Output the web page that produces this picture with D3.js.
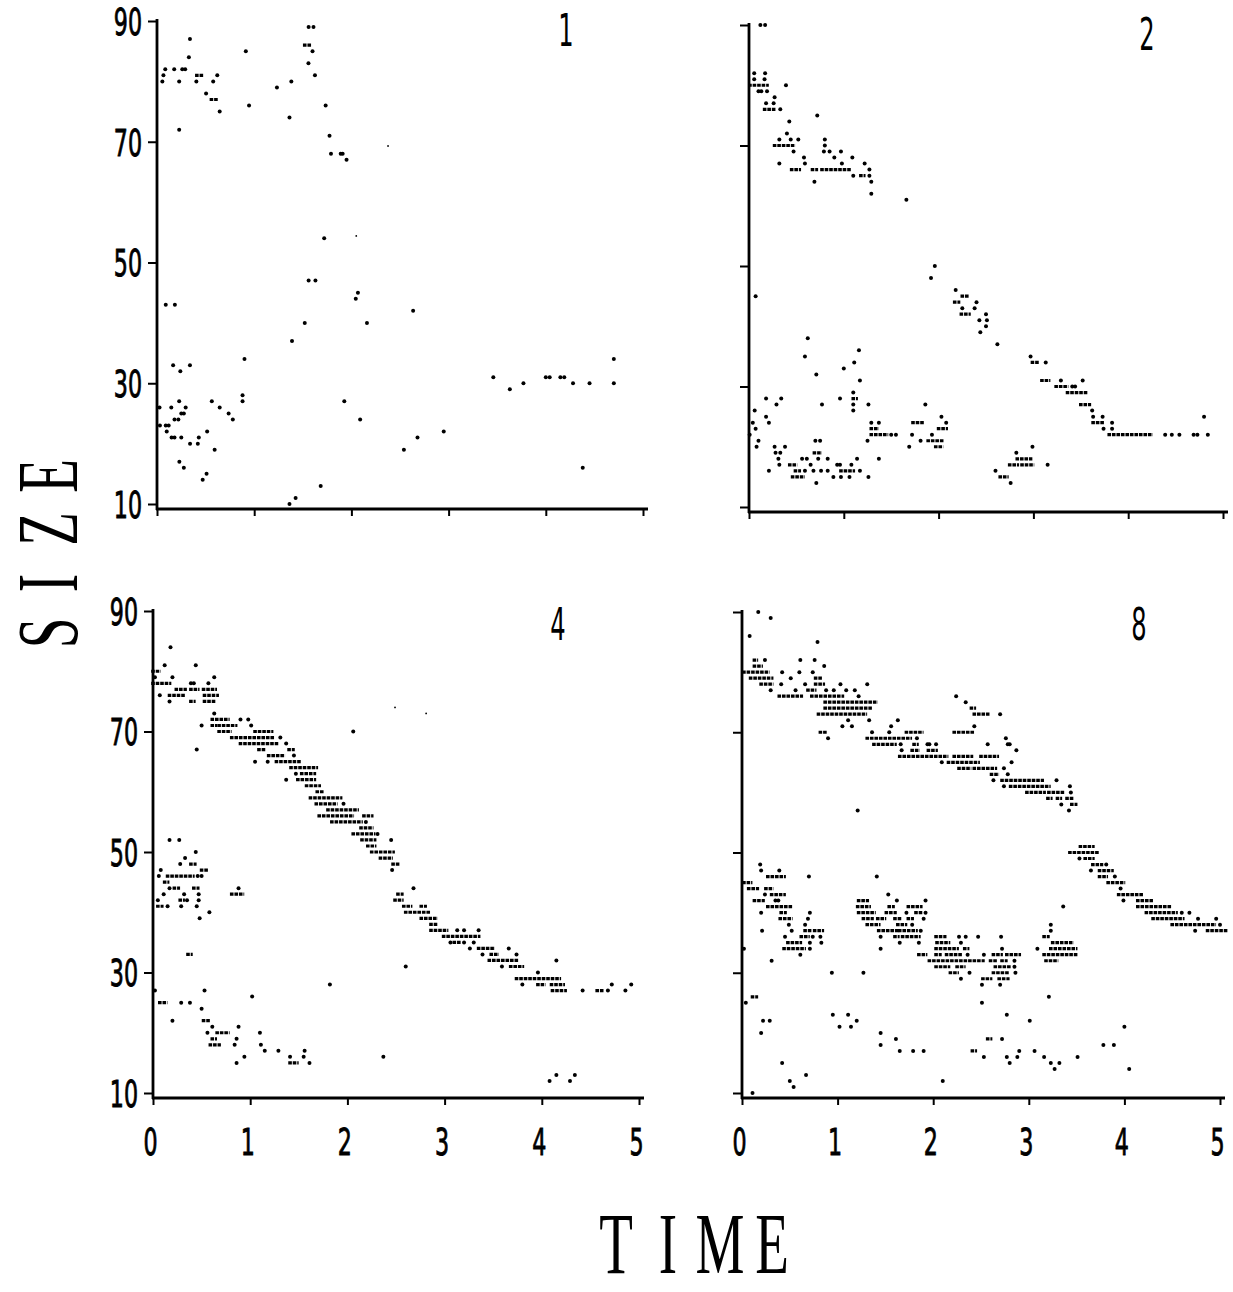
<!DOCTYPE html>
<html>
<head>
<meta charset="utf-8">
<script src="https://cdn.jsdelivr.net/npm/d3@7"></script>
<style>
  body { margin: 0; background: #fff; }
</style>
</head>
<body>
<svg id="chart" width="1233" height="1292"></svg>
<script>
// Values: [time, size] for single dots,
// [timeFrom, timeTo, size] for the runs of dots that merge into a dash.
const sizeTicks = [10, 30, 50, 70, 90];
const timeTicks = [0, 1, 2, 3, 4, 5];
const panelNames = ["1", "2", "4", "8"];

const dots1 = [
  [0.055,80],[0.066,81],[0.085,82],[0.177,82],[0.228,80],[0.228,72],[0.26,82],[0.29,82],[0.328,84],[0.339,87],
  [0.405,80],[0.505,78],[0.578,80],[0.62,81],[0.645,75],[0.914,85],[0.947,76],[1.234,79],[1.363,74],[1.382,80],
  [1.56,89],[1.61,89],[1.558,83],[1.60,85],[1.625,81],[1.735,76],[1.775,71],[1.79,68],[1.89,68],[1.91,68],[1.95,67],
  [0.09,43],[0.184,43],[1.72,54],[1.56,47],[1.63,47],[2.045,44],[2.067,45],[1.52,40],[2.16,40],[1.389,37],[2.635,42],
  [0.9,34],[4.7,34],[4.7,30],
  [0.166,33],[0.24,32],[0.339,33],[0.026,26],[0.147,26],[0.228,27],[0.25,25],[0.276,25],[0.295,26],[0.18,24],[0.22,24],
  [0.03,23],[0.09,23],[0.12,23],[0.1,22],[0.15,21],[0.18,21],[0.25,21],[0.34,20],[0.42,20],[0.43,21],[0.516,22],
  [0.593,19],[0.23,17],[0.276,16],[0.47,14],[0.51,15],[0.564,27],[0.645,26],[0.737,25],[0.78,24],[0.88,28],[0.88,27],
  [1.363,10],[1.426,11],[1.684,13],[1.927,27],[2.09,24],[2.54,19],[2.68,21],[2.95,22],[3.46,31],[3.63,29],[3.77,30],
  [4.0,31],[4.04,31],[4.15,31],[4.19,31],[4.28,30],[4.38,16],[4.45,30]
];
const runs1 = [[0.41,0.46,81],[0.56,0.61,77],[1.52,1.57,86]];
const specks1 = [[2.377,69.3],[2.05,54.4]];

const dots2 = [
  [0.12,90],[0.17,90],[0.055,82],[0.17,82],[0.055,81],[0.164,81],[0.39,80],[0.1,79],[0.13,79],[0.19,79],
  [0.18,77],[0.26,77],[0.27,78],[0.33,76],[0.425,74],[0.4,72],[0.32,71],[0.44,71],[0.52,71],[0.47,69],[0.32,67],
  [0.58,68],[0.59,67],[0.69,64],[0.72,75],[0.8,71],[0.8,70],[0.79,69],[0.85,69],[0.9,68],[0.97,69],[0.98,67],
  [1.09,68],[1.1,65],[1.22,67],[1.27,66],[1.27,65],[1.29,64],[1.29,62],[1.66,61],
  [1.96,50],[1.92,48],[0.07,45],[2.18,46],[2.25,43],[2.4,44],[2.38,43],[2.43,41],[2.51,41],[2.5,42],[2.5,40],
  [2.44,39],[2.62,37],[2.97,35],[3.13,34],[3.29,31],[3.41,30],[3.44,30],[3.52,31],[3.62,26],[3.63,25],[3.73,25],
  [3.83,24],[3.74,23],[3.83,23],[4.39,22],[4.46,22],[4.54,22],[4.69,22],[4.73,22],[4.84,22],[4.8,25],
  [0.007,22],[0.04,24],[0.06,26],[0.07,23],[0.08,20],[0.1,21],[0.18,28],[0.18,25],[0.21,24],[0.21,16],[0.29,27],
  [0.34,28],[0.27,20],[0.28,19],[0.33,19],[0.31,18],[0.32,17],[0.38,20],[0.56,18],[0.61,18],[0.59,16],[0.65,17],
  [0.62,38],[0.59,35],[0.71,32],[0.77,27],[0.7,21],[0.75,21],[0.73,18],[0.71,14],[0.76,16],[0.68,16],[0.83,18],
  [0.83,16],[0.89,15],[0.93,17],[0.96,17],[0.97,15],[1.06,15],[1.08,17],[0.96,28],[1.0,33],[1.1,29],[1.11,34],
  [1.16,36],[1.17,31],[1.1,27],[1.1,26],[1.14,18],[1.17,16],[1.26,27],[1.25,21],[1.26,15],[1.29,24],[1.37,24],
  [1.37,18],[1.5,22],[1.55,22],[1.69,20],[1.72,22],[1.81,21],[1.86,27],[1.93,22],[2.03,25],[2.08,24],[2.6,16],
  [2.76,14],[2.82,19],[2.99,20],[3.15,17]
];
const runs2 = [
  [0.01,0.19,80],[0.165,0.26,76],[0.27,0.47,70],[0.45,0.53,66],[0.67,0.71,66],[0.77,1.06,66],[1.18,1.21,65],
  [2.17,2.21,44],[2.25,2.3,45],[2.24,2.32,42],[2.99,3.04,34],[3.09,3.16,31],[3.24,3.35,30],[3.36,3.55,29],
  [3.5,3.59,27],[3.63,3.73,24],[3.8,4.24,22],
  [0.43,0.49,17],[0.49,0.53,16],[0.46,0.57,15],[0.69,0.75,19],[0.97,1.1,16],[1.1,1.13,28],[1.29,1.35,23],
  [1.29,1.45,22],[1.73,1.83,24],[1.89,2.04,21],[1.97,2.03,20],[2.0,2.08,23],[2.65,2.72,15],[2.75,2.83,17],
  [2.83,2.97,18],[2.88,2.99,17]
];
const specks2 = [];

const dots4 = [
  [0.18,84],[0.12,81],[0.44,81],[0.02,79],[0.2,79],[0.63,79],[0.39,78],[0.42,78],[0.57,78],[0.07,76],[0.17,75],
  [0.63,73],[0.5,71],[0.9,72],[0.98,72],[1.01,71],[2.06,70],[1.31,69],[1.37,68],[0.45,67],[1.45,66],[1.05,65],
  [1.18,65],[1.47,63],[1.37,62],[1.96,58],[2.19,55],[2.31,53],[2.45,52],[2.46,47],[2.68,44],[3.2,35],[3.3,35],
  [3.06,35],[3.26,34],[3.66,34],[3.39,33],[3.74,33],[2.6,31],[3.59,31],[3.96,30],[4.15,32],[3.8,28],[4.72,28],
  [4.92,28],[1.82,28],[4.42,27],[4.68,27],[4.86,27],[0.02,27],[3.13,37],[3.2,37],[3.35,37],
  [0.17,52],[0.27,52],[0.44,50],[0.33,49],[0.28,48],[0.08,47],[0.06,46],[0.46,46],[0.5,46],[0.17,44],[0.88,44],
  [0.11,43],[0.32,43],[0.47,43],[0.05,42],[0.35,42],[0.47,42],[0.15,41],[0.29,41],[0.45,41],[0.58,40],[0.48,39],
  [0.53,27],[0.29,25],[0.38,25],[0.5,24],[0.2,22],[0.61,21],[0.88,21],[0.56,20],[1.1,20],[0.86,19],[0.84,18],
  [1.11,18],[1.15,17],[1.29,17],[1.56,17],[0.94,16],[1.41,16],[1.55,16],[2.37,16],[0.86,15],[1.61,15],[1.02,26],
  [4.15,13],[4.34,13],[4.08,12],[4.29,12]
];
const runs4 = [
  [0,0.06,80],[0,0.17,78],[0.24,0.33,77],[0.39,0.46,77],[0.52,0.64,77],[0.17,0.31,76],[0.53,0.66,76],[0.39,0.42,75],
  [0.53,0.63,75],[0.61,0.64,71],[0.61,0.77,72],[0.68,0.85,71],[0.68,0.79,70],[1.05,1.22,70],[0.81,1.23,69],
  [0.9,1.27,68],[1.09,1.14,67],[1.4,1.44,67],[1.19,1.34,66],[1.27,1.51,65],[1.42,1.68,64],[1.53,1.66,63],
  [1.49,1.66,62],[1.58,1.71,61],[1.69,1.74,60],[1.62,1.93,59],[1.68,1.88,58],[1.8,2.1,57],[1.71,2.05,56],
  [2.17,2.25,56],[1.84,2.14,55],[2.14,2.25,54],[2.06,2.27,53],[2.15,2.28,52],[2.21,2.28,51],[2.25,2.47,50],
  [2.34,2.45,49],[2.47,2.52,48],[2.52,2.56,43],[2.49,2.56,42],[2.58,2.65,41],[2.76,2.8,41],[2.6,2.84,40],
  [2.76,2.91,39],[2.86,2.91,38],[2.86,3.02,37],[2.99,3.35,36],[3.1,3.15,35],[3.35,3.5,34],[3.48,3.54,33],
  [3.46,3.74,32],[3.68,3.8,31],[3.74,4.18,29],[3.96,4.02,28],[4.1,4.22,28],[4.11,4.24,27],[4.57,4.62,27],
  [0.39,0.43,48],[0.5,0.55,47],[0.15,0.41,46],[0.12,0.15,45],[0.22,0.26,44],[0.42,0.46,44],[0.81,0.92,43],
  [0.28,0.31,42],[0.05,0.09,41],[0.36,0.39,33],[0.07,0.13,25],[0.52,0.57,22],[0.66,0.77,20],[0.61,0.64,19],
  [0.59,0.68,18],[1.41,1.48,15]
];
const specks4 = [[2.49,74],[2.81,73]];

const dots8 = [
  [0.17,90],[0.3,89],[0.08,86],[0.79,85],[0.24,82],[0.61,82],[0.76,82],[0.86,81],[0.42,80],[0.6,80],[0.74,80],
  [0.51,79],[0.41,78],[0.66,78],[1.03,78],[1.31,78],[0.3,77],[0.56,77],[0.88,77],[0.96,77],[1.09,77],[1.18,77],
  [1.22,76],[2.7,73],[2.34,75],[2.24,76],[1.11,72],[1.33,72],[1.63,72],[1.05,71],[1.15,71],[1.56,71],[2.43,71],
  [1.36,70],[1.54,70],[0.9,69],[1.83,69],[2.76,69],[1.66,68],[1.94,68],[1.96,68],[2.03,68],[2.57,68],[2.78,68],
  [2.8,68],[1.67,67],[2.87,67],[2.09,65],[2.82,65],[2.74,64],[2.78,63],[2.63,62],[3.29,62],[2.74,61],[3.43,61],
  [3.44,60],[3.34,58],[3.42,57],[1.21,57],
  [3.53,49],[3.81,48],[3.65,47],[3.9,46],[3.96,44],[3.99,42],[4.6,40],[4.68,40],[4.77,39],[4.96,39],[5.0,38],[4.74,37],
  [0.19,48],[0.2,47],[0.39,47],[0.7,46],[0.24,43],[0.35,42],[0.38,42],[0.2,40],[0.71,40],[0.69,39],[0.49,38],
  [0.66,38],[0.21,37],[0.52,37],[0.45,36],[0.74,36],[0.82,36],[0.71,35],[0.83,35],[0.71,34],[0.61,33],[0.31,32],
  [0.02,34],
  [1.41,46],[1.53,43],[1.62,42],[1.92,42],[1.72,40],[1.92,40],[1.9,39],[1.78,38],[1.87,37],[1.45,36],[1.65,35],
  [1.85,35],[1.45,34],[2.27,36],[2.34,36],[2.47,36],[2.71,36],[2.72,34],[2.29,35],[2.36,33],[2.53,33],[2.85,32],
  [2.85,31],[2.38,30],[2.86,30],[2.29,29],[2.51,28],[2.7,28],[2.51,25],[3.23,37],[3.23,38],[3.09,34],[3.36,41],
  [3.21,26],
  [0.04,25],[0.2,20],[0.22,22],[0.29,22],[0.42,15],[0.5,12],[0.54,11],[0.67,13],[0.11,10],[0.94,30],[1.27,30],
  [0.95,23],[1.02,21],[1.11,23],[1.14,21],[1.2,22],[1.45,20],[1.45,18],[1.61,19],[1.65,17],[1.79,17],[1.9,17],
  [2.1,12],[2.53,16],[2.72,19],[2.77,23],[2.77,16],[2.8,15],[2.88,16],[2.9,17],[3.01,22],[3.06,17],[3.16,16],
  [3.23,15],[3.27,14],[3.32,15],[3.51,16],[3.78,18],[3.89,18],[4.0,21],[4.05,14]
];
const runs8 = [
  [0.13,0.15,82],[0.13,0.2,81],[0.02,0.27,80],[0.09,0.31,79],[0.2,0.31,78],[0.77,0.82,79],[0.77,0.85,78],
  [0.69,0.76,77],[0.39,0.62,76],[0.73,1.05,76],[0.87,1.4,75],[0.87,1.34,74],[0.8,1.29,73],[2.43,2.57,73],
  [2.4,2.43,74],[0.82,0.87,70],[1.72,1.88,70],[2.22,2.41,70],[1.31,1.76,69],[1.38,1.6,68],[1.8,1.83,68],
  [1.78,1.84,67],[1.95,2.03,67],[1.65,2.14,66],[2.22,2.4,66],[2.5,2.67,66],[2.16,2.47,65],[2.27,2.38,64],
  [2.43,2.65,64],[2.61,2.67,63],[2.72,3.14,62],[2.81,3.21,61],[2.98,3.16,60],[3.21,3.36,60],[3.2,3.23,59],
  [3.3,3.33,59],[3.4,3.45,59],[3.45,3.49,58],
  [3.54,3.67,51],[3.43,3.72,50],[3.59,3.67,49],[3.67,3.76,48],[3.74,3.87,47],[3.74,3.81,46],[3.83,3.99,45],
  [3.94,4.18,43],[4.14,4.28,42],[4.14,4.47,41],[4.23,4.54,40],[4.3,4.61,39],[4.5,4.94,38],[4.87,5.06,37],
  [0.02,0.09,45],[0.07,0.16,44],[0.25,0.31,44],[0.27,0.44,46],[0.31,0.44,43],[0.13,0.22,42],[0.27,0.51,41],
  [0.41,0.45,40],[0.4,0.51,39],[0.66,0.71,37],[0.76,0.84,37],[0.62,0.69,36],[0.48,0.61,35],[0.44,0.65,34],
  [1.21,1.33,41],[1.54,1.58,41],[1.74,1.87,41],[1.22,1.38,40],[1.51,1.6,40],[1.82,1.87,40],[1.27,1.36,39],
  [1.42,1.49,39],[1.6,1.65,39],[1.74,1.78,39],[1.31,1.43,38],[1.63,1.71,38],[1.43,1.63,37],[1.65,1.82,37],
  [1.6,1.63,36],[1.68,1.85,36],[1.85,1.92,33],[1.22,1.31,42],[2.03,2.12,36],[2.03,2.25,34],[2.33,2.36,34],
  [2.04,2.16,35],[2.03,2.07,33],[2.14,2.29,33],[2.63,2.71,33],[2.77,2.9,33],[1.96,2.52,32],[2.6,2.65,32],
  [2.72,2.76,32],[2.03,2.16,31],[2.25,2.32,31],[2.65,2.8,31],[2.18,2.25,30],[2.63,2.78,30],[2.52,2.6,29],
  [2.69,2.78,29],[3.16,3.2,36],[3.23,3.49,34],[3.25,3.45,35],[3.16,3.49,33],[3.18,3.29,32],
  [0.11,0.15,26],[2.41,2.44,17],[2.57,2.6,19]
];
const specks8 = [];

const yTitle = "SIZE";
const xTitle = "TIME";

// ---- layout ----
var svg = d3.select("#chart");
var NARROW = 0.6; // the scanned digits are tall and condensed

var panels = [
  { name: panelNames[0], dots: dots1, runs: runs1, specks: specks1, left: 157, right: 643, top: 21, bottom: 504, yLabels: true,  xLabels: false, tag: [566, 46] },
  { name: panelNames[1], dots: dots2, runs: runs2, specks: specks2, left: 749, right: 1223, top: 25, bottom: 507, yLabels: false, xLabels: false, tag: [1147, 50] },
  { name: panelNames[2], dots: dots4, runs: runs4, specks: specks4, left: 153, right: 639, top: 611, bottom: 1093, yLabels: true,  xLabels: true,  tag: [558, 640] },
  { name: panelNames[3], dots: dots8, runs: runs8, specks: specks8, left: 742, right: 1220, top: 612, bottom: 1093, yLabels: false, xLabels: true,  tag: [1139, 640] }
];

panels.forEach(drawPanel);
drawTitles();

function styleDigits(sel) {
  sel.attr("font-family", "DejaVu Sans")
    .attr("font-size", 37)
    .attr("fill", "#000")
    .attr("stroke", "#000")
    .attr("stroke-width", 0.9)
    .attr("transform", "scale(" + NARROW + ",1)");
}

function drawPanel(p) {
  var x = d3.scaleLinear().domain([0, 5]).range([p.left, p.right]);
  var y = d3.scaleLinear().domain([10, 90]).range([p.bottom, p.top]);
  var base = y(10) + 5; // the time axis sits a little under the 10 tick
  var g = svg.append("g");

  // axis lines drawn by hand so they meet in the corner
  g.append("line")
    .attr("x1", x(0)).attr("x2", x(0))
    .attr("y1", y(90) - 2).attr("y2", base + 1)
    .attr("stroke", "#000").attr("stroke-width", 2.8);
  g.append("line")
    .attr("x1", x(0) - 1).attr("x2", x(5) + 5)
    .attr("y1", base).attr("y2", base)
    .attr("stroke", "#000").attr("stroke-width", 2.8);

  var yAxis = g.append("g")
    .attr("transform", "translate(" + x(0) + ",0)")
    .call(d3.axisLeft(y).tickValues(sizeTicks).tickSize(9).tickSizeOuter(0)
      .tickFormat(p.yLabels ? d3.format("d") : ""));
  yAxis.select(".domain").remove();
  yAxis.selectAll("line").attr("stroke", "#000").attr("stroke-width", 2);
  yAxis.selectAll("text")
    .call(styleDigits)
    .attr("x", -15 / NARROW)
    .attr("dy", "0.36em");

  var xAxis = g.append("g")
    .attr("transform", "translate(0," + base + ")")
    .call(d3.axisBottom(x).tickValues(timeTicks).tickSize(7).tickSizeOuter(0)
      .tickFormat(p.xLabels ? d3.format("d") : ""));
  xAxis.select(".domain").remove();
  xAxis.selectAll("line").attr("stroke", "#000").attr("stroke-width", 2);
  xAxis.selectAll("text")
    .call(styleDigits)
    .attr("x", -3 / NARROW)
    .attr("y", 31);

  // runs of touching dots
  g.append("g").selectAll("line")
    .data(p.runs)
    .join("line")
    .attr("x1", d => x(d[0]) - 1.8)
    .attr("x2", d => x(d[1]) + 1.8)
    .attr("y1", d => y(d[2]))
    .attr("y2", d => y(d[2]))
    .attr("stroke", "#000")
    .attr("stroke-width", 3.2)
    .attr("stroke-dasharray", "3.6,0.9");

  g.append("g").selectAll("circle")
    .data(p.dots)
    .join("circle")
    .attr("cx", d => x(d[0]))
    .attr("cy", d => y(d[1]))
    .attr("r", 2)
    .attr("fill", "#000");

  g.append("g").selectAll("circle")
    .data(p.specks)
    .join("circle")
    .attr("cx", d => x(d[0]))
    .attr("cy", d => y(d[1]))
    .attr("r", 0.9)
    .attr("fill", "#000");

  g.append("text")
    .attr("transform", "translate(" + p.tag[0] + "," + p.tag[1] + ") scale(0.55,1)")
    .attr("text-anchor", "middle")
    .attr("font-family", "DejaVu Sans")
    .attr("font-size", 44)
    .attr("fill", "#000")
    .text(p.name);
}

function drawTitles() {
  // vertical title, read bottom to top, letters spread out like the scan
  var sizeCenters = [633, 583, 529, 476];
  svg.append("g").selectAll("text")
    .data(yTitle.split(""))
    .join("text")
    .attr("transform", (d, i) => "translate(77," + sizeCenters[i] + ") rotate(-90) scale(0.64,1)")
    .attr("text-anchor", "middle")
    .attr("font-family", "Liberation Serif")
    .attr("font-size", 86)
    .attr("fill", "#000")
    .text(d => d);

  var timeCenters = [616, 668, 720, 772];
  svg.append("g").selectAll("text")
    .data(xTitle.split(""))
    .join("text")
    .attr("transform", (d, i) => "translate(" + timeCenters[i] + ",1273) scale(0.64,1)")
    .attr("text-anchor", "middle")
    .attr("font-family", "Liberation Serif")
    .attr("font-size", 86)
    .attr("fill", "#000")
    .text(d => d);
}
</script>
</body>
</html>
